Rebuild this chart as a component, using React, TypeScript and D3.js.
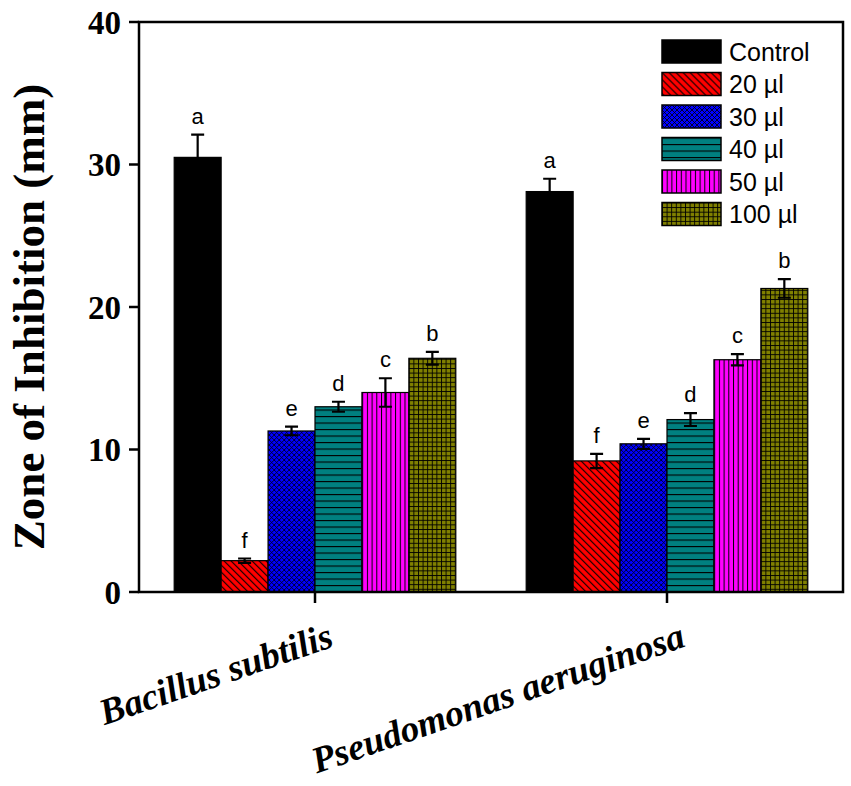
import React, { useRef, useEffect } from 'react';
import * as d3 from 'd3';

// values (mean ± error, letter = significance group)
const groups = ['Bacillus subtilis', 'Pseudomonas aeruginosa'];
const treatments = ['Control', '20 µl', '30 µl', '40 µl', '50 µl', '100 µl'];
const bacillusMeans = [30.5, 2.2, 11.3, 13.0, 14.0, 16.4];
const bacillusErrors = [1.6, 0.15, 0.3, 0.35, 1.0, 0.45];
const bacillusLetters = ['a', 'f', 'e', 'd', 'c', 'b'];
const pseudomonasMeans = [28.1, 9.2, 10.4, 12.1, 16.3, 21.3];
const pseudomonasErrors = [0.9, 0.5, 0.35, 0.45, 0.4, 0.65];
const pseudomonasLetters = ['a', 'f', 'e', 'd', 'c', 'b'];
const yTicks = [0, 10, 20, 30, 40];

const fills = ['#000000', '#ff0000', '#0000ff', '#008080', '#ff00ff', '#808000'];
const patternIds = ['pControl', 'p20', 'p30', 'p40', 'p50', 'p100'];

const App: React.FC = () => {
  const svgRef = useRef<SVGSVGElement | null>(null);

  useEffect(() => {
    const svg = d3.select(svgRef.current);
    svg.selectAll('*').remove();
    const width = 851;
    const height = 786;
    const left = 139, right = 843, top = 22, bottom = 592;

    const rows = [
      { name: groups[0], means: bacillusMeans, errs: bacillusErrors, letters: bacillusLetters },
      { name: groups[1], means: pseudomonasMeans, errs: pseudomonasErrors, letters: pseudomonasLetters },
    ];

    const x0 = d3.scaleBand().domain(groups).range([left, right]).paddingInner(0.2).paddingOuter(0.1);
    const x1 = d3.scaleBand().domain(treatments).range([0, x0.bandwidth()]);
    const y = d3.scaleLinear().domain([0, 40]).range([bottom, top]);

    // hatch patterns
    const defs = svg.append('defs');
    const mk = (id: string, size: number, bg: string, d: string, sw = 1) => {
      const p = defs.append('pattern').attr('id', id)
        .attr('patternUnits', 'userSpaceOnUse').attr('width', size).attr('height', size);
      p.append('rect').attr('width', size).attr('height', size).attr('fill', bg);
      if (d) p.append('path').attr('d', d).attr('stroke', '#000').attr('stroke-width', sw).attr('fill', 'none');
    };
    mk(patternIds[0], 6, fills[0], '');
    mk(patternIds[1], 7, fills[1], 'M0,0L7,7M-1,6L1,8M6,-1L8,1', 1.1);
    mk(patternIds[2], 5, fills[2], 'M0,0L5,5M-1,4L1,6M4,-1L6,1M0,5L5,0M-1,1L1,-1M4,6L6,4', 0.8);
    mk(patternIds[3], 6.5, fills[3], 'M0,0.5L6.5,0.5', 1.2);
    mk(patternIds[4], 4.7, fills[4], 'M0.5,0L0.5,4.7', 1);
    mk(patternIds[5], 4.6, fills[5], 'M0.5,0L0.5,4.6M0,0.5L4.6,0.5', 0.9);

    // bars
    const g = svg.append('g').selectAll('g').data(rows).enter().append('g')
      .attr('transform', d => `translate(${x0(d.name)},0)`);

    const items = g.selectAll('g.bar')
      .data(d => treatments.map((t, i) => ({ t, i, v: d.means[i], e: d.errs[i], l: d.letters[i] })))
      .enter().append('g').attr('class', 'bar');

    items.append('rect')
      .attr('x', d => x1(d.t) as number)
      .attr('y', d => y(d.v))
      .attr('width', x1.bandwidth())
      .attr('height', d => y(0) - y(d.v))
      .attr('fill', d => `url(#${patternIds[d.i]})`)
      .attr('stroke', '#000')
      .attr('stroke-width', 1.2);

    const cx = (d: any) => (x1(d.t) as number) + x1.bandwidth() / 2;
    const cap = 6.5;
    items.append('path')
      .attr('d', d => {
        const c = cx(d), a = y(d.v + d.e), b = y(d.v - d.e);
        return `M${c},${a}L${c},${b}M${c - cap},${a}L${c + cap},${a}M${c - cap},${b}L${c + cap},${b}`;
      })
      .attr('stroke', '#000').attr('stroke-width', 2.2).attr('fill', 'none');

    items.append('text')
      .attr('x', cx)
      .attr('y', d => y(d.v + d.e) - 11)
      .attr('text-anchor', 'middle')
      .style('font-family', 'Liberation Sans, Arial, sans-serif')
      .style('font-size', '22px')
      .text(d => d.l);

    // frame
    svg.append('rect')
      .attr('x', left).attr('y', top)
      .attr('width', right - left).attr('height', bottom - top)
      .attr('fill', 'none').attr('stroke', '#000').attr('stroke-width', 2.5);

    // y axis ticks + labels
    const yAxis = svg.append('g');
    yAxis.selectAll('line').data(yTicks).enter().append('line')
      .attr('x1', left - 10).attr('x2', left)
      .attr('y1', d => y(d)).attr('y2', d => y(d))
      .attr('stroke', '#000').attr('stroke-width', 2.5);
    yAxis.selectAll('text').data(yTicks).enter().append('text')
      .attr('x', left - 18).attr('y', d => y(d)).attr('dy', '0.35em')
      .attr('text-anchor', 'end')
      .style('font-family', 'Liberation Serif, Times New Roman, serif')
      .style('font-weight', 'bold').style('font-size', '33px')
      .text(d => d);

    // x axis ticks + labels
    const xAxis = svg.append('g');
    xAxis.selectAll('line').data(groups).enter().append('line')
      .attr('x1', d => (x0(d) as number) + x0.bandwidth() / 2)
      .attr('x2', d => (x0(d) as number) + x0.bandwidth() / 2)
      .attr('y1', bottom).attr('y2', bottom + 11)
      .attr('stroke', '#000').attr('stroke-width', 2.5);
    xAxis.selectAll('text').data(groups).enter().append('text')
      .attr('transform', d => `translate(${(x0(d) as number) + x0.bandwidth() / 2 + 20},${bottom + 54}) rotate(-19)`)
      .attr('text-anchor', 'end')
      .style('font-family', 'Liberation Serif, Times New Roman, serif')
      .style('font-weight', 'bold').style('font-style', 'italic').style('font-size', '37px')
      .text(d => d);

    // y title
    svg.append('text')
      .attr('transform', `translate(44,${(top + bottom) / 2 + 10}) rotate(-90)`)
      .attr('text-anchor', 'middle')
      .style('font-family', 'Liberation Serif, Times New Roman, serif')
      .style('font-weight', 'bold').style('font-size', '45px')
      .text('Zone of Inhibition (mm)');

    // legend
    const legend = svg.append('g').attr('transform', 'translate(662,40)');
    const lg = legend.selectAll('g').data(treatments).enter().append('g')
      .attr('transform', (d, i) => `translate(0,${i * 32.5})`);
    lg.append('rect')
      .attr('width', 59).attr('height', 23)
      .attr('fill', (d, i) => `url(#${patternIds[i]})`)
      .attr('stroke', '#000').attr('stroke-width', 1.5);
    lg.append('text')
      .attr('x', 67).attr('y', 11.5).attr('dy', '0.36em')
      .style('font-family', 'Liberation Sans, Arial, sans-serif')
      .style('font-size', '25px')
      .text(d => d);

    svg.attr('width', width).attr('height', height);
  }, []);

  return (
    <svg
      ref={svgRef}
      width={851}
      height={786}
      style={{ position: 'absolute', left: 0, top: 0, background: '#fff' }}
    />
  );
};

export default App;
